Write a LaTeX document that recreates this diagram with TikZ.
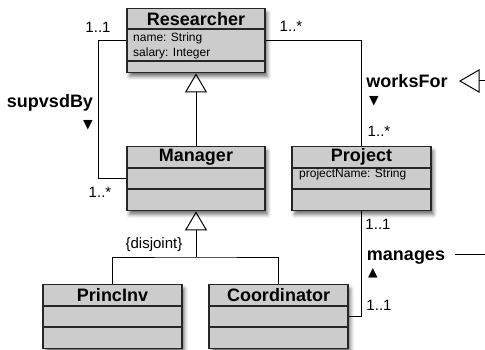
\documentclass[tikz,border=0pt]{standalone}
\usepackage{fontspec}
\setmainfont{Liberation Sans}
\newfontfamily\symfont{DejaVu Sans}
\usetikzlibrary{arrows.meta,shadows.blur,calc}
\definecolor{boxgray}{RGB}{204,204,204}
\tikzset{
  classbox/.style={draw=black!85, line width=1.4pt, fill=boxgray, inner sep=0pt,
    minimum width=138pt, minimum height=64pt, anchor=north,
    blur shadow={shadow xshift=2.5pt, shadow yshift=-4pt, shadow blur radius=3.5pt, shadow opacity=55}},
  divider/.style={draw=black!85, line width=1.4pt},
  ctitle/.style={font=\fontsize{18}{20}\bfseries\selectfont, inner sep=0pt},
  cattr/.style={font=\fontsize{12}{14}\selectfont, inner sep=0pt, anchor=base west},
  assoc/.style={draw, line width=1pt},
  mult/.style={font=\fontsize{15}{17}\selectfont, inner sep=0pt},
  alabel/.style={font=\fontsize{18}{20}\bfseries\selectfont, inner sep=0pt},
  dirmark/.style={font=\symfont\fontsize{12.5}{13}\selectfont, inner sep=0pt},
  gen/.style={draw, line width=1pt, -{Triangle[open, length=19pt, width=22pt, line width=1pt]}},
}
\begin{document}
\begin{tikzpicture}[x=1pt, y=-1pt]
\useasboundingbox (0,0) rectangle (485,350);

% classes
\node[classbox] (res) at (196,8) {};
\node[classbox] (man) at (196,146) {};
\node[classbox, minimum width=139pt] (proj) at (361.5,146) {};
\node[classbox, minimum width=139pt] (princ) at (112.5,284) {};
\node[classbox, minimum width=139pt] (coord) at (278.5,284) {};

% compartments
\draw[divider] ($(res.north west)+(0,21)$) -- ($(res.north east)+(0,21)$);
\draw[divider] ($(res.north west)+(0,53)$) -- ($(res.north east)+(0,53)$);
\foreach \c in {man,proj,princ,coord}{
  \draw[divider] ($(\c.north west)+(0,22)$) -- ($(\c.north east)+(0,22)$);
  \draw[divider] ($(\c.north west)+(0,43)$) -- ($(\c.north east)+(0,43)$);
}

% titles
\node[ctitle] (tres) at ($(res.north)+(0,11)$) {Researcher};
\node[ctitle] (tman) at ($(man.north)+(0,11)$) {Manager};
\node[ctitle] (tproj) at ($(proj.north)+(0,11)$) {Project};
\node[ctitle] (tprinc) at ($(princ.north)+(0,11)$) {PrincInv};
\node[ctitle] (tcoord) at ($(coord.north)+(0,11)$) {Coordinator};

% attributes
\node[cattr] (a1) at (133,42) {name: String};
\node[cattr] (a2) at (133,57) {salary: Integer};
\node[cattr] (a3) at (299,178) {projectName: String};

% generalization Researcher <- Manager
\draw[gen] (man.north) -- (res.south);

% generalization tree Manager <- PrincInv, Coordinator
\coordinate (gj) at (196,257);
\draw[assoc] (princ.north) |- (gj) -| (coord.north);
\draw[gen] (gj) -- (man.south);
\node[mult] (disj) at (154,245) {\{disjoint\}};

% supvsdBy
\draw[assoc] (res.west) -- ++(-28,0) |- (man.west);
\node[mult] (m1) at (98,27) {1..1};
\node[mult] (m2) at (100,192) {1..*};
\node[alabel] (lsup) at (50,103) {supvsdBy};
\node[dirmark] (d1) at (88,125) {▼};

% worksFor
\draw[assoc] (res.east) -| (proj.north);
\node[mult] (m3) at (291,26) {1..*};
\node[mult] (m4) at (379,131) {1..*};
\node[alabel] (lwf) at (407,81) {worksFor};
\node[dirmark] (d2) at (374,101) {▼};
\coordinate (wt) at (460,81);
\coordinate (we) at (485,81);
\draw[line width=1pt] (wt) -- ++(19,-11) -- ++(0,22) -- cycle;
\draw[line width=1pt] ($(wt)+(19,0)$) -- (we);

% manages
\draw[assoc] (proj.south) |- (coord.east);
\node[mult] (m5) at (378,224) {1..1};
\node[mult] (m6) at (379,305) {1..1};
\node[alabel] (lman) at (406,258) {manages};
\node[dirmark] (d3) at (373,273) {▲};
\coordinate (ms) at (455,254);
\coordinate (me) at (485,254);
\draw[line width=1pt] (ms) -- (me);
\end{tikzpicture}
\end{document}
